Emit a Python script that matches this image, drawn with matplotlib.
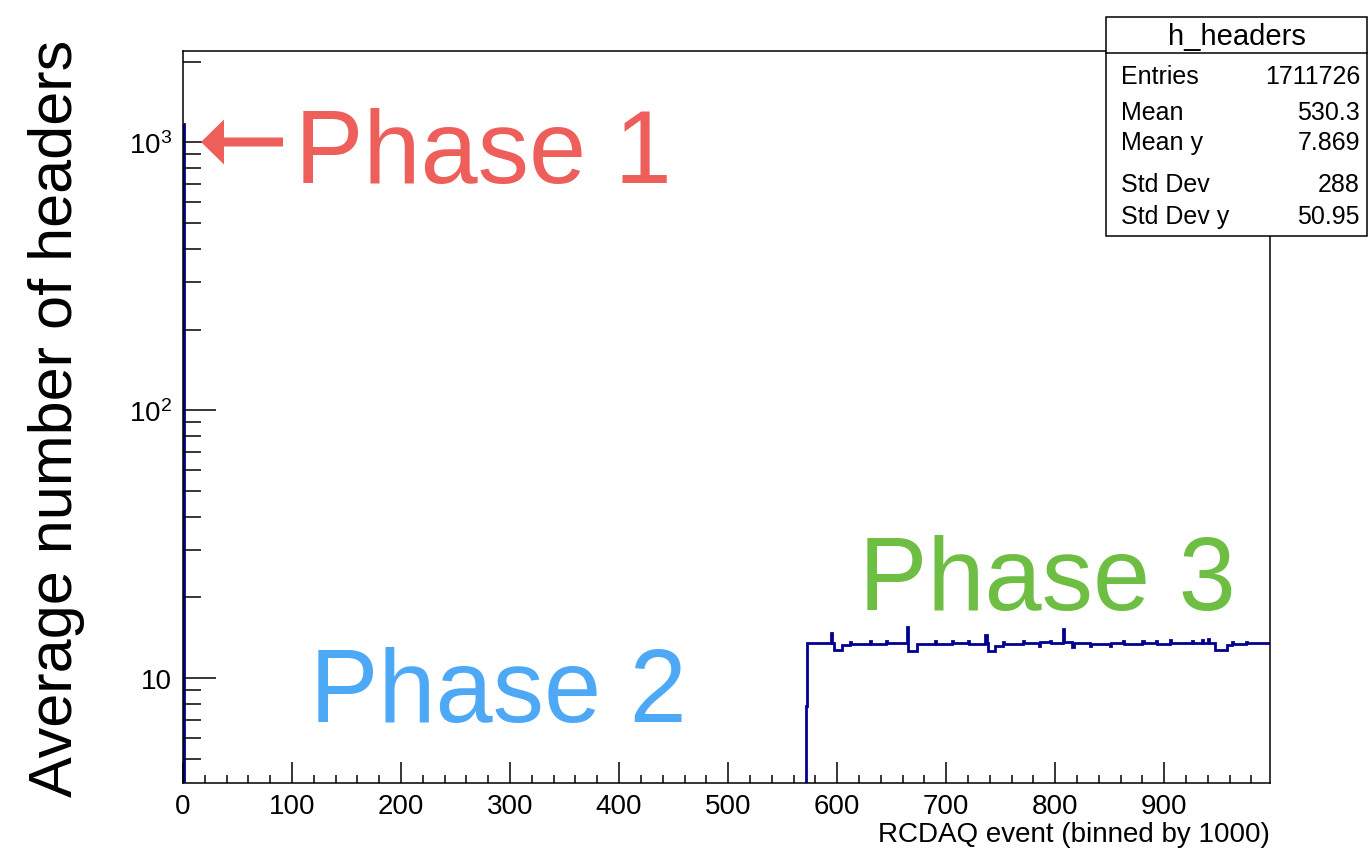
import matplotlib
matplotlib.use("Agg")
import matplotlib.pyplot as plt
from matplotlib.patches import Rectangle, FancyArrow
from matplotlib.lines import Line2D
from matplotlib.ticker import FixedLocator, FixedFormatter, MultipleLocator, LogLocator, NullFormatter

plt.rcParams['font.family'] = ['Liberation Sans', 'DejaVu Sans']
plt.rcParams['mathtext.fontset'] = 'custom'
plt.rcParams['mathtext.rm'] = 'Liberation Sans'
plt.rcParams['mathtext.it'] = 'Liberation Sans:italic'

# bin edges (RCDAQ event / 1000) and average number of headers per bin
bin_edges = [0, 1, 571, 572, 594, 595, 597, 604, 612, 613, 630, 631, 645, 646, 664, 665,
             673, 690, 691, 705, 706, 720, 721, 736, 737, 738, 745, 752, 753, 770, 771, 785,
             786, 795, 796, 807, 808, 815, 817, 832, 833, 850, 851, 862, 863, 880, 881, 892,
             893, 905, 906, 925, 926, 935, 936, 940, 941, 947, 958, 962, 963, 975, 976, 997]
bin_values = [1170, 0, 7.9, 13.5, 14.7, 13.5, 12.7, 13.3, 13.6, 13.4,
              13.7, 13.4, 13.7, 13.5, 15.5, 12.6, 13.4, 13.7, 13.4, 13.7,
              13.5, 13.8, 13.4, 14.5, 13.5, 12.6, 13.2, 13.6, 13.4, 13.8,
              13.5, 13.2, 13.6, 13.8, 13.5, 15.2, 13.6, 13.1, 13.5, 13.2,
              13.4, 13.2, 13.5, 13.8, 13.4, 13.7, 13.5, 13.8, 13.4, 13.9,
              13.5, 13.8, 13.5, 13.9, 13.5, 14.0, 13.5, 12.7, 13.3, 13.6,
              13.4, 13.6, 13.5]

x_major = [0, 100, 200, 300, 400, 500, 600, 700, 800, 900]
y_major = [10, 100, 1000]
y_major_labels = ['10', '$10^{2}$', '$10^{3}$']

stats_names = ['Entries', 'Mean', 'Mean y', 'Std Dev', 'Std Dev y']
stats_values = ['1711726', '530.3', '7.869', '288', '50.95']

W, H = 1368, 853
fig = plt.figure(figsize=(W / 100, H / 100), dpi=100)
ax = fig.add_axes([183 / W, 1 - 784 / H, (1270 - 183) / W, (784 - 52) / H])

ax.stairs(bin_values, bin_edges, baseline=None, color='#000090', linewidth=2.0)

ax.set_yscale('log')
ax.set_xlim(0, 997)
ax.set_ylim(4.06, 2190)

ax.xaxis.set_major_locator(FixedLocator(x_major))
ax.xaxis.set_minor_locator(MultipleLocator(20))
ax.yaxis.set_major_locator(FixedLocator(y_major))
ax.yaxis.set_major_formatter(FixedFormatter(y_major_labels))
ax.yaxis.set_minor_locator(LogLocator(base=10, subs=[2, 3, 4, 5, 6, 7, 8, 9]))
ax.yaxis.set_minor_formatter(NullFormatter())

ax.tick_params(axis='x', which='major', direction='in', length=15, width=1.1, labelsize=20, pad=7)
ax.tick_params(axis='x', which='minor', direction='in', length=6, width=1.1)
ax.tick_params(axis='y', which='major', direction='in', length=24, width=1.1, labelsize=20, pad=8)
ax.tick_params(axis='y', which='minor', direction='in', length=13, width=1.1)
for s in ax.spines.values():
    s.set_linewidth(1.1)

ax.set_xlabel('RCDAQ event (binned by 1000)', loc='right', fontsize=20, labelpad=2)
fig.text(57 / W, 1 - 418 / H, 'Average number of headers', rotation=90,
         fontsize=44, ha='center', va='center')

# phase annotations
fig.text(295 / W, 1 - 183 / H, 'Phase 1', fontsize=74, color='#EE5F5B', ha='left', va='baseline')
fig.text(310 / W, 1 - 722 / H, 'Phase 2', fontsize=74, color='#4DA8F5', ha='left', va='baseline')
fig.text(859 / W, 1 - 610 / H, 'Phase 3', fontsize=74, color='#6FBE44', ha='left', va='baseline')
fig.patches.append(FancyArrow(2.83, (H - 143) / 100, -0.82, 0, width=0.09, head_width=0.45,
                              head_length=0.23, length_includes_head=True, color='#EE5F5B',
                              linewidth=0, transform=fig.dpi_scale_trans, figure=fig))

# stats box
bx0, bx1, by0, by1 = 1106, 1367, 18, 237
fig.patches.append(Rectangle((bx0 / W, 1 - by1 / H), (bx1 - bx0) / W, (by1 - by0) / H,
                             facecolor='white', edgecolor='black', linewidth=1.1,
                             transform=fig.transFigure, figure=fig, zorder=5))
fig.lines.append(Line2D([bx0 / W, bx1 / W], [1 - 54 / H, 1 - 54 / H], color='black',
                        linewidth=1.1, transform=fig.transFigure, figure=fig, zorder=6))
fig.text((bx0 + bx1) / 2 / W, 1 - 37 / H, 'h_headers', fontsize=21, ha='center', va='center', zorder=7)
row_y = [77, 113, 143, 185, 217]
for name, val, yy in zip(stats_names, stats_values, row_y):
    fig.text(1121 / W, 1 - yy / H, name, fontsize=18, ha='left', va='center', zorder=7)
    fig.text(1360 / W, 1 - yy / H, val, fontsize=18, ha='right', va='center', zorder=7)

fig.savefig('out.png', dpi=100)
